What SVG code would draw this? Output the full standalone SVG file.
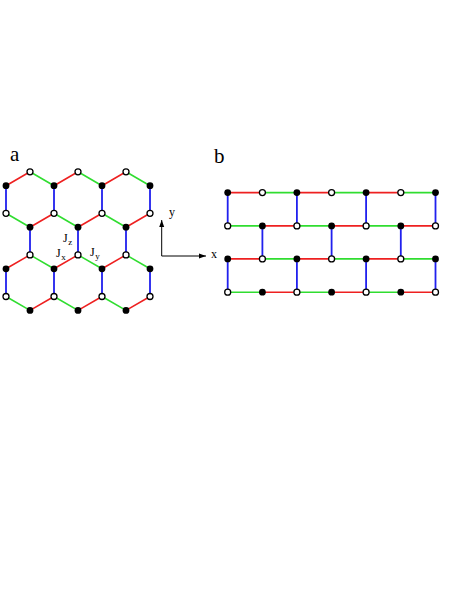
<svg xmlns="http://www.w3.org/2000/svg" width="457" height="591" viewBox="0 0 457 591">
<defs>
<style>
.r{stroke:#ee2020;stroke-width:1.6;fill:none}
.g{stroke:#30dd30;stroke-width:1.6;fill:none}
.b{stroke:#2020ee;stroke-width:1.8;fill:none}
.f{fill:#000}
.o{fill:#fff;stroke:#000;stroke-width:1.3}
.ax{stroke:#000;stroke-width:1;fill:none}
text{font-family:"Liberation Serif",serif;fill:#000}
.big{font-size:21px}
.lab{font-size:12px}
.sub{font-size:9px}
</style>
<marker id="ah" markerWidth="8" markerHeight="6" refX="7" refY="3" orient="auto" markerUnits="userSpaceOnUse">
<path d="M0,0.5 L7,3 L0,5.5 z" fill="#000"/>
</marker>
</defs>
<rect width="457" height="591" fill="#fff"/>
<g id="label-a"><text class="big" x="10" y="161">a</text></g>
<g id="label-b"><text class="big" x="214" y="163">b</text></g>
<g id="connectors">
<!-- panel a -->
<path class="r" d="M6,185.7L30,171.8M54,185.7L78,171.8M102,185.7L126,171.8"/>
<path class="g" d="M30,171.8L54,185.7M78,171.8L102,185.7M126,171.8L150,185.7"/>
<path class="b" d="M6,185.7V213.3M54,185.7V213.3M102,185.7V213.3M150,185.7V213.3"/>
<path class="g" d="M6,213.3L30,227.2M54,213.3L78,227.2M102,213.3L126,227.2"/>
<path class="r" d="M30,227.2L54,213.3M78,227.2L102,213.3M126,227.2L150,213.3"/>
<path class="b" d="M30,227.2V254.9M78,227.2V254.9M126,227.2V254.9"/>
<path class="r" d="M6,268.8L30,254.9M54,268.8L78,254.9M102,268.8L126,254.9"/>
<path class="g" d="M30,254.9L54,268.8M78,254.9L102,268.8M126,254.9L150,268.8"/>
<path class="b" d="M6,268.8V296.5M54,268.8V296.5M102,268.8V296.5M150,268.8V296.5"/>
<path class="g" d="M6,296.5L30,310.4M54,296.5L78,310.4M102,296.5L126,310.4"/>
<path class="r" d="M30,310.4L54,296.5M78,310.4L102,296.5M126,310.4L150,296.5"/>
<!-- panel b -->
<path class="r" d="M227.7,192.6H262.4M296.9,192.6H331.6M366.1,192.6H400.8"/>
<path class="g" d="M262.4,192.6H296.9M331.6,192.6H366.1M400.8,192.6H435.5"/>
<path class="g" d="M227.7,225.9H262.4M296.9,225.9H331.6M366.1,225.9H400.8"/>
<path class="r" d="M262.4,225.9H296.9M331.6,225.9H366.1M400.8,225.9H435.5"/>
<path class="r" d="M227.7,258.9H262.4M296.9,258.9H331.6M366.1,258.9H400.8"/>
<path class="g" d="M262.4,258.9H296.9M331.6,258.9H366.1M400.8,258.9H435.5"/>
<path class="g" d="M227.7,292.2H262.4M296.9,292.2H331.6M366.1,292.2H400.8"/>
<path class="r" d="M262.4,292.2H296.9M331.6,292.2H366.1M400.8,292.2H435.5"/>
<path class="b" d="M227.7,192.6V225.9M296.9,192.6V225.9M366.1,192.6V225.9M435.5,192.6V225.9"/>
<path class="b" d="M262.4,225.9V258.9M331.6,225.9V258.9M400.8,225.9V258.9"/>
<path class="b" d="M227.7,258.9V292.2M296.9,258.9V292.2M366.1,258.9V292.2M435.5,258.9V292.2"/>
</g>
<g id="axes">
<path class="ax" d="M161.7,256V220" marker-end="url(#ah)"/>
<path class="ax" d="M161.7,256H206" marker-end="url(#ah)"/>
<text class="lab" x="169" y="216">y</text>
<text class="lab" x="211" y="258">x</text>
</g>
<g id="couplings">
<text class="lab" x="63" y="242">J<tspan class="sub" dx="0.5" dy="3">z</tspan></text>
<text class="lab" x="56" y="257">J<tspan class="sub" dx="0.5" dy="3">x</tspan></text>
<text class="lab" x="90" y="256">J<tspan class="sub" dx="0.5" dy="3">y</tspan></text>
</g>
<g id="nodes-a">
<circle class="o" cx="30" cy="171.8" r="3"/><circle class="o" cx="78" cy="171.8" r="3"/><circle class="o" cx="126" cy="171.8" r="3"/>
<circle class="f" cx="6" cy="185.7" r="3.4"/><circle class="f" cx="54" cy="185.7" r="3.4"/><circle class="f" cx="102" cy="185.7" r="3.4"/><circle class="f" cx="150" cy="185.7" r="3.4"/>
<circle class="o" cx="6" cy="213.3" r="3"/><circle class="o" cx="54" cy="213.3" r="3"/><circle class="o" cx="102" cy="213.3" r="3"/><circle class="o" cx="150" cy="213.3" r="3"/>
<circle class="f" cx="30" cy="227.2" r="3.4"/><circle class="f" cx="78" cy="227.2" r="3.4"/><circle class="f" cx="126" cy="227.2" r="3.4"/>
<circle class="o" cx="30" cy="254.9" r="3"/><circle class="o" cx="78" cy="254.9" r="3"/><circle class="o" cx="126" cy="254.9" r="3"/>
<circle class="f" cx="6" cy="268.8" r="3.4"/><circle class="f" cx="54" cy="268.8" r="3.4"/><circle class="f" cx="102" cy="268.8" r="3.4"/><circle class="f" cx="150" cy="268.8" r="3.4"/>
<circle class="o" cx="6" cy="296.5" r="3"/><circle class="o" cx="54" cy="296.5" r="3"/><circle class="o" cx="102" cy="296.5" r="3"/><circle class="o" cx="150" cy="296.5" r="3"/>
<circle class="f" cx="30" cy="310.4" r="3.4"/><circle class="f" cx="78" cy="310.4" r="3.4"/><circle class="f" cx="126" cy="310.4" r="3.4"/>
</g>
<g id="nodes-b">
<circle class="f" cx="227.7" cy="192.6" r="3.4"/><circle class="o" cx="262.4" cy="192.6" r="3"/><circle class="f" cx="296.9" cy="192.6" r="3.4"/><circle class="o" cx="331.6" cy="192.6" r="3"/><circle class="f" cx="366.1" cy="192.6" r="3.4"/><circle class="o" cx="400.8" cy="192.6" r="3"/><circle class="f" cx="435.5" cy="192.6" r="3.4"/>
<circle class="o" cx="227.7" cy="225.9" r="3"/><circle class="f" cx="262.4" cy="225.9" r="3.4"/><circle class="o" cx="296.9" cy="225.9" r="3"/><circle class="f" cx="331.6" cy="225.9" r="3.4"/><circle class="o" cx="366.1" cy="225.9" r="3"/><circle class="f" cx="400.8" cy="225.9" r="3.4"/><circle class="o" cx="435.5" cy="225.9" r="3"/>
<circle class="f" cx="227.7" cy="258.9" r="3.4"/><circle class="o" cx="262.4" cy="258.9" r="3"/><circle class="f" cx="296.9" cy="258.9" r="3.4"/><circle class="o" cx="331.6" cy="258.9" r="3"/><circle class="f" cx="366.1" cy="258.9" r="3.4"/><circle class="o" cx="400.8" cy="258.9" r="3"/><circle class="f" cx="435.5" cy="258.9" r="3.4"/>
<circle class="o" cx="227.7" cy="292.2" r="3"/><circle class="f" cx="262.4" cy="292.2" r="3.4"/><circle class="o" cx="296.9" cy="292.2" r="3"/><circle class="f" cx="331.6" cy="292.2" r="3.4"/><circle class="o" cx="366.1" cy="292.2" r="3"/><circle class="f" cx="400.8" cy="292.2" r="3.4"/><circle class="o" cx="435.5" cy="292.2" r="3"/>
</g>
</svg>
